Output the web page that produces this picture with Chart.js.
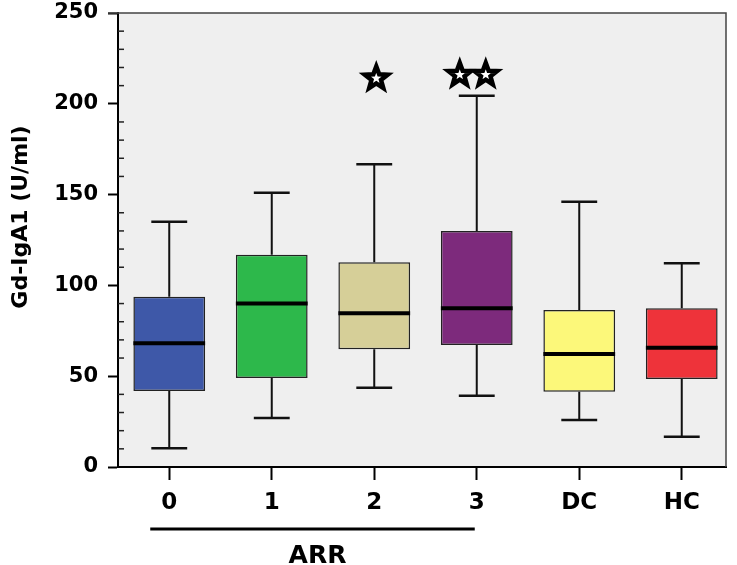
<!DOCTYPE html>
<html>
<head>
<meta charset="utf-8">
<script src="https://cdn.jsdelivr.net/npm/chart.js@4"></script>
<style>
  body { margin: 0; background: #fff; }
  #wrap { width: 737px; height: 565px; }
</style>
</head>
<body>
<div id="wrap"><canvas id="graficoCajas" width="737" height="565"></canvas></div>
<script>
// datos
const categorias = ['0', '1', '2', '3', 'DC', 'HC'];
const bigoteInf = [10.3, 27, 43.7, 39.3, 25.9, 16.7];
const q1 = [41.9, 49, 64.8, 67.2, 41.5, 48.5];
const mediana = [68.1, 90.1, 84.6, 87.4, 62.2, 65.7];
const q3 = [93.8, 116.9, 112.7, 130, 86.5, 87.4];
const bigoteSup = [135.1, 151, 166.7, 204.5, 146, 112.2];
const atipicos = [[], [], [214], [216, 216], [], []];
const colores = ['#3e58a8', '#2db84b', '#d6cf98', '#7d2a7c', '#fcf87a', '#ee333a'];

const fuente = "'DejaVu Sans', Arial, sans-serif";

function estrella(ctx, x, y, rExt, rInt) {
  ctx.beginPath();
  for (let k = 0; k < 10; k++) {
    const r = k % 2 === 0 ? rExt : rInt;
    const a = -Math.PI / 2 + k * Math.PI / 5;
    const px = x + r * Math.cos(a);
    const py = y + r * Math.sin(a);
    if (k === 0) ctx.moveTo(px, py); else ctx.lineTo(px, py);
  }
  ctx.closePath();
}

// el marco derecho queda un poco antes del final del area
const recorteDer = 7;

const extrasCajas = {
  id: 'extrasCajas',
  beforeDraw(chart) {
    const { ctx, chartArea: a } = chart;
    ctx.save();
    ctx.fillStyle = '#efefef';
    ctx.fillRect(a.left, a.top, a.right - recorteDer - a.left, a.bottom - a.top);
    ctx.restore();
  },
  afterDatasetsDraw(chart) {
    const { ctx, chartArea: a } = chart;
    const xs = chart.scales.x;
    const ys = chart.scales.y;
    const barras = chart.getDatasetMeta(0).data;
    ctx.save();
    categorias.forEach((c, i) => {
      const x = xs.getPixelForValue(i);
      const w = barras[i].width;
      // bigotes
      ctx.strokeStyle = '#111';
      ctx.lineWidth = 2;
      ctx.beginPath();
      ctx.moveTo(x, ys.getPixelForValue(q3[i]));
      ctx.lineTo(x, ys.getPixelForValue(bigoteSup[i]));
      ctx.moveTo(x, ys.getPixelForValue(q1[i]));
      ctx.lineTo(x, ys.getPixelForValue(bigoteInf[i]));
      ctx.stroke();
      ctx.lineWidth = 2.5;
      ctx.beginPath();
      ctx.moveTo(x - w / 4, ys.getPixelForValue(bigoteSup[i]));
      ctx.lineTo(x + w / 4, ys.getPixelForValue(bigoteSup[i]));
      ctx.moveTo(x - w / 4, ys.getPixelForValue(bigoteInf[i]));
      ctx.lineTo(x + w / 4, ys.getPixelForValue(bigoteInf[i]));
      ctx.stroke();
      // mediana
      ctx.strokeStyle = '#000';
      ctx.lineWidth = 4;
      ctx.beginPath();
      ctx.moveTo(x - w / 2, ys.getPixelForValue(mediana[i]));
      ctx.lineTo(x + w / 2, ys.getPixelForValue(mediana[i]));
      ctx.stroke();
      // atipicos
      const n = atipicos[i].length;
      atipicos[i].forEach((v, j) => {
        const px = x + (j - (n - 1) / 2) * 26 - (n > 1 ? 4 : -2);
        const py = ys.getPixelForValue(v);
        estrella(ctx, px, py, 12, 5);
        ctx.fillStyle = '#fff';
        ctx.fill();
        ctx.strokeStyle = '#000';
        ctx.lineWidth = 4.5;
        ctx.lineJoin = 'miter';
        ctx.stroke();
      });
    });
    // marcas menores hacia dentro
    ctx.strokeStyle = '#222';
    ctx.lineWidth = 1.5;
    for (let v = 10; v < 250; v += 10) {
      if (v % 50 === 0) continue;
      const y = ys.getPixelForValue(v);
      ctx.beginPath();
      ctx.moveTo(a.left, y);
      ctx.lineTo(a.left + 6, y);
      ctx.stroke();
    }
    ctx.restore();
  },
  afterDraw(chart) {
    const { ctx, chartArea: a } = chart;
    const xs = chart.scales.x;
    ctx.save();
    // marco superior y derecho
    ctx.strokeStyle = '#444';
    ctx.lineWidth = 1.5;
    ctx.beginPath();
    ctx.moveTo(a.left - 10, a.top);
    ctx.lineTo(a.right - recorteDer, a.top);
    ctx.lineTo(a.right - recorteDer, a.bottom);
    ctx.stroke();
    // tapar el eje x que sobra a la derecha
    ctx.fillStyle = '#fff';
    ctx.fillRect(a.right - recorteDer + 1, a.bottom - 2, recorteDer + 2, 4);
    // linea ARR
    const x0 = xs.getPixelForValue(0) - 19;
    const x3 = xs.getPixelForValue(3) - 2;
    ctx.strokeStyle = '#000';
    ctx.lineWidth = 3;
    ctx.beginPath();
    ctx.moveTo(x0, 529);
    ctx.lineTo(x3, 529);
    ctx.stroke();
    ctx.fillStyle = '#000';
    ctx.font = 'bold 25px ' + fuente;
    ctx.textAlign = 'center';
    ctx.textBaseline = 'alphabetic';
    ctx.fillText('ARR', (x0 + x3) / 2 + 5, 563);
    // titulo eje y
    ctx.translate(27, 217);
    ctx.rotate(-Math.PI / 2);
    ctx.font = 'bold 22px ' + fuente;
    ctx.fillText('Gd-IgA1 (U/ml)', 0, 0);
    ctx.restore();
  }
};

const ctx = document.getElementById('graficoCajas').getContext('2d');
new Chart(ctx, {
  type: 'bar',
  data: {
    labels: categorias,
    datasets: [{
      data: q1.map((v, i) => [v, q3[i]]),
      backgroundColor: colores,
      borderColor: '#222',
      borderWidth: 1.5,
      borderSkipped: false,
      barPercentage: 0.7,
      categoryPercentage: 1.0
    }]
  },
  options: {
    responsive: false,
    animation: false,
    layout: { padding: { top: 13, right: 4, left: 0, bottom: 0 } },
    plugins: {
      legend: { display: false },
      tooltip: { enabled: false }
    },
    scales: {
      x: {
        afterFit: s => { s.height = 98; s.paddingLeft = 0; s.paddingRight = 0; },
        grid: {
          offset: false,
          drawOnChartArea: false,
          tickLength: 13,
          tickWidth: 2,
          tickColor: '#000'
        },
        border: { display: true, color: '#000', width: 2 },
        ticks: {
          color: '#000',
          padding: 9,
          font: { family: fuente, size: 23, weight: 'bold' }
        }
      },
      y: {
        min: 0,
        max: 250,
        afterFit: s => { s.width = 118; s.paddingTop = 0; s.paddingBottom = 0; },
        grid: {
          drawOnChartArea: false,
          tickLength: 10,
          tickWidth: 2,
          tickColor: c => (c.tick && c.tick.value % 50 === 0) ? '#000' : 'rgba(0,0,0,0)'
        },
        border: { display: true, color: '#000', width: 2 },
        ticks: {
          stepSize: 10,
          autoSkip: false,
          color: '#000',
          padding: 10,
          font: { family: fuente, size: 21, weight: 'bold' },
          callback: v => (v % 50 === 0 ? v : '')
        }
      }
    }
  },
  plugins: [extrasCajas]
});
</script>
</body>
</html>
